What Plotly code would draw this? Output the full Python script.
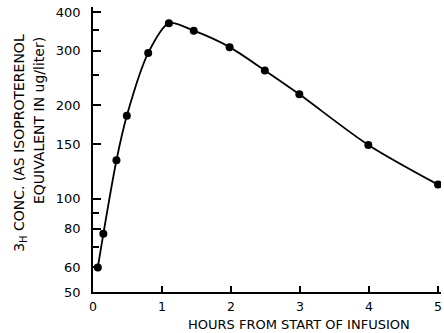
import plotly.graph_objects as go
import math

hours = [0.07, 0.15, 0.34, 0.49, 0.80, 1.10, 1.46, 1.98, 2.49, 2.99, 3.99, 5.0]
conc = [60, 77, 133, 185, 295, 368, 348, 308, 259, 217, 149, 111]

y_major = [50, 60, 80, 100, 150, 200, 300, 400]
y_minor = [70, 90, 250, 350]
x_ticks = [0, 1, 2, 3, 4, 5]

FONT = "DejaVu Sans"

fig = go.Figure()
fig.add_trace(go.Scatter(
    x=hours, y=conc, mode="lines+markers",
    line=dict(color="black", width=1.8, shape="spline", smoothing=0.8),
    marker=dict(color="black", size=8),
    showlegend=False,
))

fig.update_layout(
    width=444, height=333,
    margin=dict(l=93, r=3, t=7, b=41),
    paper_bgcolor="white", plot_bgcolor="white",
    font=dict(family=FONT, size=13, color="black"),
    xaxis=dict(
        range=[0, 5.043], tickvals=x_ticks, ticktext=[str(v) for v in x_ticks],
        ticks="inside", ticklen=6, tickwidth=1.5, tickcolor="black",
        showline=True, linecolor="black", linewidth=1.5,
        showgrid=False, zeroline=False, ticklabelstandoff=2,
        tickfont=dict(size=12.5),
    ),
    yaxis=dict(
        type="log", range=[math.log10(50), 2.618],
        tickvals=y_major, ticktext=[str(v) for v in y_major],
        ticks="inside", ticklen=8, tickwidth=1.5, tickcolor="black",
        minor=dict(tickvals=y_minor, ticks="inside", ticklen=6, tickwidth=1.5, tickcolor="black"),
        showline=True, linecolor="black", linewidth=1.5,
        showgrid=False, zeroline=False, ticklabelstandoff=8,
    ),
    annotations=[
        dict(text="3<sub>H</sub> CONC. (AS ISOPROTERENOL", xref="paper", yref="paper",
             x=-0.21, y=0.523, xanchor="center", yanchor="middle", textangle=-90,
             showarrow=False, font=dict(family=FONT, size=14)),
        dict(text="EQUIVALENT IN ug/liter)", xref="paper", yref="paper",
             x=-0.155, y=0.60, xanchor="center", yanchor="middle", textangle=-90,
             showarrow=False, font=dict(family=FONT, size=14)),
        dict(text="HOURS FROM START OF INFUSION", xref="paper", yref="paper",
             x=0.592, y=-0.114, xanchor="center", yanchor="middle",
             showarrow=False, font=dict(family=FONT, size=13)),
    ],
)

fig.write_html("out.html")
